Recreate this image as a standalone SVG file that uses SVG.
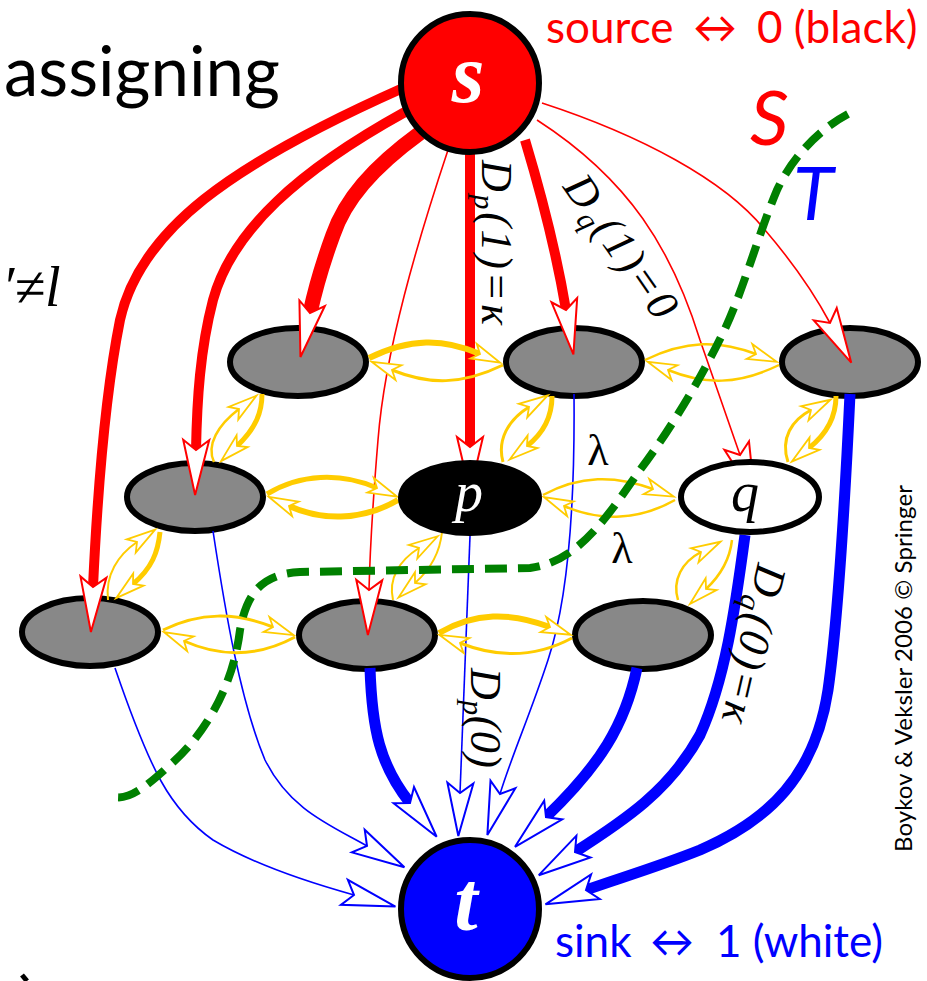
<svg xmlns="http://www.w3.org/2000/svg" width="927" height="981" viewBox="0 0 927 981">
<style>
.bg{fill:#fff}
.nd{fill:#888;stroke:#000;stroke-width:6}
.rl{fill:none;stroke:#f00;marker-end:url(#mr)}
.bl{fill:none;stroke:#00f;marker-end:url(#mb)}
.yl{fill:none;stroke:#fc0;marker-end:url(#my)}
.m{font-family:"Liberation Serif","Times New Roman",serif;font-style:italic}
.sans{font-family:Lato,"Liberation Sans",sans-serif}
</style>
<defs>
<marker id="mr" markerUnits="userSpaceOnUse" orient="auto" overflow="visible" refX="0" refY="0" markerWidth="1" markerHeight="1">
<path d="M45,0 L-10,-13 L0,0 L-10,13 Z" fill="#fff" stroke="#f00" stroke-width="2"/>
</marker>
<marker id="mb" markerUnits="userSpaceOnUse" orient="auto" overflow="visible" refX="0" refY="0" markerWidth="1" markerHeight="1">
<path d="M43,0 L-10,-13 L0,0 L-10,13 Z" fill="#fff" stroke="#00f" stroke-width="2"/>
</marker>
<marker id="my" markerUnits="userSpaceOnUse" orient="auto" overflow="visible" refX="0" refY="0" markerWidth="1" markerHeight="1">
<path d="M22,0 L-7,-8 L0,0 L-7,8 Z" fill="#fff" stroke="#fc0" stroke-width="1.8"/>
</marker>
</defs>
<rect class="bg" x="0" y="0" width="927" height="981"/>

<text class="sans" x="4" y="96" font-size="69">assigning</text>
<text class="m" x="2" y="306" font-size="56">′≠l</text>
<path d="M22,975 L27,981" stroke="#000" stroke-width="5" fill="none"/>

<g id="n_a1"><ellipse class="nd" cx="298" cy="362" rx="68" ry="34"/></g>
<g id="n_a2"><ellipse class="nd" cx="574" cy="362" rx="68" ry="34"/></g>
<g id="n_a3"><ellipse class="nd" cx="850" cy="362" rx="68" ry="34"/></g>
<g id="n_b1"><ellipse class="nd" cx="195" cy="497" rx="68" ry="34"/></g>
<g id="n_c1"><ellipse class="nd" cx="90" cy="632" rx="68" ry="34"/></g>
<g id="n_c2"><ellipse class="nd" cx="367" cy="635" rx="68" ry="34"/></g>
<g id="n_c3"><ellipse class="nd" cx="643" cy="635" rx="68" ry="34"/></g>

<g id="connectors">
<path class="rl" stroke-width="10" d="M403,88 C230,165 140,230 120,320 C106,390 98,480 93,587"/>
<path class="rl" stroke-width="10" d="M405,112 C300,170 232,230 213,300 C200,350 197,400 196,450"/>
<path class="rl" stroke-width="15" d="M420,133 C372,168 345,200 333,235 C322,265 315,290 310,313"/>
<path class="rl" stroke-width="10" d="M470,150 L470,447"/>
<path class="rl" stroke-width="10" d="M525,140 C540,190 556,250 566,310"/>
<path class="rl" stroke-width="1.6" d="M448,150 C418,240 385,350 378,440 C373,500 370,550 369,590"/>
<path class="rl" stroke-width="1.6" d="M537,120 C630,180 672,250 700,340 L740,455"/>
<path class="rl" stroke-width="1.6" d="M542,103 C640,135 725,180 765,230 C795,265 815,295 830,323"/>
<path class="bl" stroke-width="1.6" d="M115,668 C150,770 170,810 213,840 C250,862 300,880 354,895"/>
<path class="bl" stroke-width="1.6" d="M213,531 C225,610 240,700 265,760 C290,810 330,825 367,846"/>
<path class="bl" stroke-width="11" d="M370,668 C372,730 380,765 410,803"/>
<path class="bl" stroke-width="1.6" d="M470,536 L460,793"/>
<path class="bl" stroke-width="1.6" d="M574,394 C575,500 568,600 548,660 C530,715 512,755 500,794"/>
<path class="bl" stroke-width="11" d="M637,668 C625,725 600,765 546,817"/>
<path class="bl" stroke-width="11" d="M745,535 C735,610 725,680 700,735 C670,790 625,820 575,852"/>
<path class="bl" stroke-width="11" d="M850,394 C845,500 838,620 828,690 C815,775 770,820 700,850 C660,866 620,878 586,890"/>
<path class="yl" stroke-width="6" d="M369,358 C410,338 443,338 480,354"/>
<path class="yl" stroke-width="3" d="M503,365 C462,385 429,385 392,370"/>
<path class="yl" stroke-width="2.5" d="M645,360 C686,340 719,340 756,354"/>
<path class="yl" stroke-width="2.5" d="M779,365 C738,385 705,385 668,370"/>
<path class="yl" stroke-width="5" d="M267,494 C300,474 340,472 377,488"/>
<path class="yl" stroke-width="6" d="M398,500 C360,522 320,520 289,506"/>
<path class="yl" stroke-width="2.5" d="M543,495 C580,475 615,475 653,489"/>
<path class="yl" stroke-width="2.5" d="M675,500 C640,520 600,522 564,506"/>
<path class="yl" stroke-width="3" d="M163,630 C200,612 235,612 273,627"/>
<path class="yl" stroke-width="3" d="M295,637 C258,657 220,657 184,641"/>
<path class="yl" stroke-width="6" d="M439,633 C475,612 510,612 550,627"/>
<path class="yl" stroke-width="3" d="M572,638 C535,658 498,658 460,643"/>
<path class="yl" stroke-width="2.5" d="M214,462 C206,445 218,425 239,409"/>
<path class="yl" stroke-width="5" d="M262,394 C262,412 256,428 237,446"/>
<path class="yl" stroke-width="2" d="M108,600 C105,575 118,555 137,542"/>
<path class="yl" stroke-width="5" d="M160,532 C158,552 152,568 133,584"/>
<path class="yl" stroke-width="3" d="M503,462 C497,440 508,420 529,407"/>
<path class="yl" stroke-width="5" d="M552,396 C552,415 545,432 527,446"/>
<path class="yl" stroke-width="2" d="M393,600 C388,578 400,560 419,548"/>
<path class="yl" stroke-width="2" d="M442,532 C440,552 432,568 415,583"/>
<path class="yl" stroke-width="3" d="M788,462 C780,438 792,420 811,410"/>
<path class="yl" stroke-width="5" d="M836,396 C836,416 828,433 809,448"/>
<path class="yl" stroke-width="2.5" d="M678,600 C672,580 682,562 701,552"/>
<path class="yl" stroke-width="2.5" d="M732,540 C730,558 722,574 706,589"/>
</g>

<g id="n_p"><ellipse cx="470" cy="498" rx="69" ry="35" fill="#000" stroke="#000" stroke-width="6"/>
<text class="m" x="469" y="511" font-size="56" fill="#fff" text-anchor="middle">p</text></g>
<g id="n_q"><ellipse cx="750" cy="497" rx="69" ry="35" fill="#fff" stroke="#000" stroke-width="6"/>
<text class="m" x="745" y="511" font-size="56" fill="#000" text-anchor="middle">q</text></g>
<g id="n_s"><circle cx="470" cy="83" r="69" fill="#f00" stroke="#000" stroke-width="6"/>
<text class="m" x="468" y="102" font-size="84" font-weight="bold" fill="#fff" text-anchor="middle">s</text></g>
<g id="n_t"><circle cx="470" cy="909" r="69" fill="#00f" stroke="#000" stroke-width="6"/>
<text class="m" x="466" y="930" font-size="84" font-weight="bold" fill="#fff" text-anchor="middle">t</text></g>

<g id="cut"><path d="M848,114 C818,130 792,158 777,190 C758,235 742,295 722,335 C700,380 670,430 640,470 C610,512 580,562 530,568 L300,572 C258,574 246,598 240,630 C234,680 210,730 170,765 C148,785 130,800 115,797" fill="none" stroke="#008000" stroke-width="8" stroke-dasharray="22 11"/></g>

<g id="labels">
<text class="m" transform="translate(482,160) rotate(90)" font-size="44" textLength="165" lengthAdjust="spacing">D<tspan font-size="30" dy="8">p</tspan><tspan dy="-8">(1)=κ</tspan></text>
<text class="m" transform="translate(562,187) rotate(55)" font-size="44" textLength="165" lengthAdjust="spacing">D<tspan font-size="30" dy="8">q</tspan><tspan dy="-8">(1)=0</tspan></text>
<text class="m" transform="translate(471,668) rotate(90)" font-size="44" textLength="100" lengthAdjust="spacing">D<tspan font-size="30" dy="8">p</tspan><tspan dy="-8">(0)</tspan></text>
<text class="m" transform="translate(758,562) rotate(103)" font-size="44" textLength="162" lengthAdjust="spacing">D<tspan font-size="30" dy="8">q</tspan><tspan dy="-8">(0)=κ</tspan></text>
<text x="598" y="465" font-family="Liberation Serif,serif" font-size="44" text-anchor="middle">λ</text>
<text x="622" y="563" font-family="Liberation Serif,serif" font-size="44" text-anchor="middle">λ</text>
<text class="sans" x="546" y="43" font-size="44" fill="#f00">source<tspan x="693">↔</tspan><tspan x="757">0 (black)</tspan></text>
<text class="sans" x="555" y="957" font-size="44" fill="#00f">sink<tspan x="650">↔</tspan><tspan x="716">1 (white)</tspan></text>
<text class="sans" x="750" y="145" font-size="76" font-style="italic" fill="#f00">S</text>
<text class="sans" x="793" y="220" font-size="74" font-style="italic" fill="#00f">T</text>
<text class="sans" transform="translate(912,852) rotate(-90)" font-size="24" textLength="367" lengthAdjust="spacing">Boykov &amp; Veksler 2006 © Springer</text>
</g>
</svg>
